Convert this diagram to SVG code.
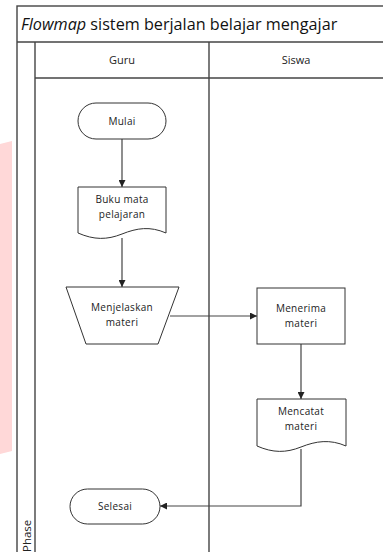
<svg xmlns="http://www.w3.org/2000/svg" width="383" height="552" viewBox="0 0 383 552">
  <defs>
    <marker id="arrow" viewBox="0 0 10 10" refX="10" refY="5" markerWidth="7" markerHeight="7" orient="auto" markerUnits="userSpaceOnUse">
      <path d="M0,0 L10,5 L0,10 z" fill="#222"/>
    </marker>
    <style>
      .frame { fill: none; stroke: #444; stroke-width: 1.4; }
      .shape { fill: #fff; stroke: #333; stroke-width: 1; }
      .wire { fill: none; stroke: #444; stroke-width: 1.2; }
      .lbl { font-family: "Open Sans", "Liberation Sans", sans-serif; font-size: 10px; letter-spacing: 0.3px; fill: #222; text-anchor: middle; }
      .hdr { font-family: "Open Sans", "Liberation Sans", sans-serif; font-size: 11px; fill: #222; text-anchor: middle; }
      .title { font-family: "Open Sans", "Liberation Sans", sans-serif; font-size: 16.2px; fill: #111; }
    </style>
  </defs>

  <rect width="383" height="552" fill="#fff"/>

  <!-- faint pink mark along the left margin -->
  <polygon points="0,144 12,141 12,451 0,454" fill="#ffd8d8"/>

  <!-- swimlane frame -->
  <g id="frame">
    <rect x="17" y="6" width="370" height="560" class="frame"/>
    <line x1="17" y1="42" x2="383" y2="42" class="frame"/>
    <line x1="35" y1="42" x2="35" y2="552" class="frame"/>
    <line x1="35" y1="78" x2="383" y2="78" class="frame"/>
    <line x1="209" y1="42" x2="209" y2="552" class="frame"/>
    <text x="21" y="30" class="title"><tspan font-style="italic">Flowmap</tspan> sistem berjalan belajar mengajar</text>
    <text x="122" y="64" class="hdr">Guru</text>
    <text x="296" y="64" class="hdr">Siswa</text>
    <text transform="translate(31,552) rotate(-90)" class="hdr" style="text-anchor:start;font-size:11.5px">Phase</text>
  </g>

  <!-- connectors -->
  <g id="connectors">
    <line x1="122" y1="139" x2="122" y2="187" class="wire" marker-end="url(#arrow)"/>
    <line x1="122" y1="238" x2="122" y2="287" class="wire" marker-end="url(#arrow)"/>
    <line x1="170" y1="316" x2="257" y2="316" class="wire" marker-end="url(#arrow)"/>
    <line x1="301" y1="344" x2="301" y2="399" class="wire" marker-end="url(#arrow)"/>
    <polyline points="301,449 301,506 160,506" class="wire" marker-end="url(#arrow)"/>
  </g>

  <g id="mulai">
    <rect x="78" y="103" width="88" height="36" rx="18" class="shape"/>
    <text x="122" y="125" class="lbl">Mulai</text>
  </g>

  <g id="buku">
    <path d="M78,187 H166 V233 C150,226 137,228 122,234 C107,240 94,240 78,233 Z" class="shape"/>
    <text x="122" y="203" class="lbl">Buku mata</text>
    <text x="122" y="218" class="lbl">pelajaran</text>
  </g>

  <g id="menjelaskan">
    <polygon points="66,287 179,287 158,344 86,344" class="shape"/>
    <text x="122" y="311" class="lbl">Menjelaskan</text>
    <text x="122" y="326" class="lbl">materi</text>
  </g>

  <g id="menerima">
    <rect x="257" y="288" width="88" height="56" class="shape"/>
    <text x="301" y="312" class="lbl">Menerima</text>
    <text x="301" y="327" class="lbl">materi</text>
  </g>

  <g id="mencatat">
    <path d="M257,399 H346 V446 C330,439 316,441 301,447 C286,453 273,453 257,446 Z" class="shape"/>
    <text x="301" y="415" class="lbl">Mencatat</text>
    <text x="301" y="430" class="lbl">materi</text>
  </g>

  <g id="selesai">
    <rect x="70" y="489" width="90" height="35" rx="17.5" class="shape"/>
    <text x="115" y="510" class="lbl">Selesai</text>
  </g>
</svg>
